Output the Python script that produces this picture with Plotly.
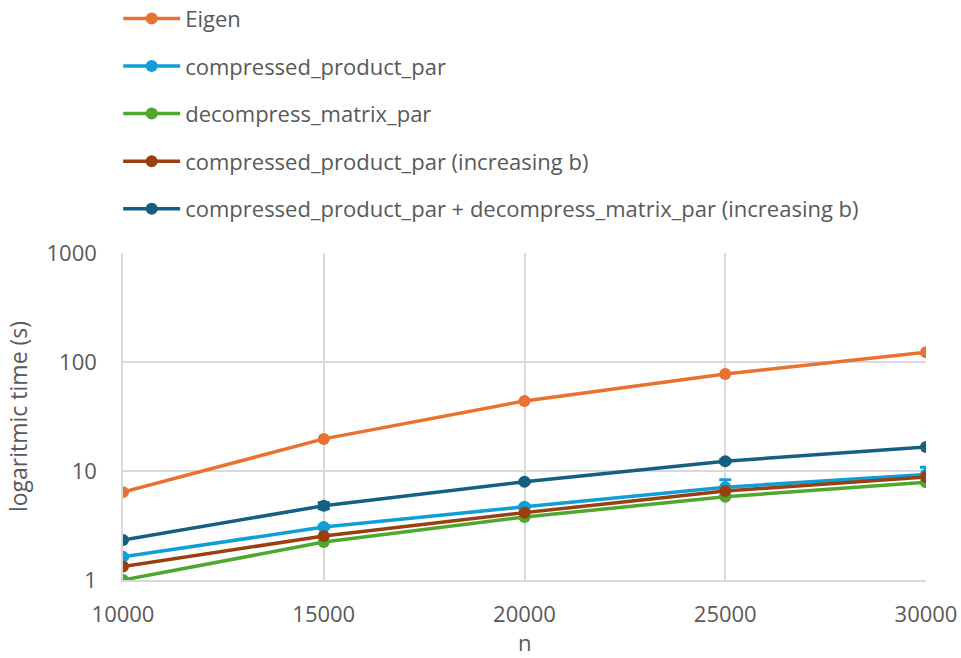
import plotly.graph_objects as go

n_values = [10000, 15000, 20000, 25000, 30000]
x_tick_labels = ["10000", "15000", "20000", "25000", "30000"]
y_tick_values = [1, 10, 100, 1000]
y_tick_labels = ["1", "10", "100", "1000"]

eigen = [6.4, 19.7, 43.9, 77.6, 123]
cp_par = [1.63, 3.06, 4.7, 7.1, 9.3]
dm_par = [1.0, 2.23, 3.78, 5.8, 7.9]
cp_par_inc_b = [1.33, 2.53, 4.15, 6.55, 8.8]
cp_dm_inc_b = [2.33, 4.8, 7.95, 12.3, 16.6]

cp_par_err = [0.03, 0.1, 0.15, 1.2, 1.5]
cp_dm_inc_b_err = [0.0, 0.3, 0.2, 0.4, 0.0]

series = [
    ("Eigen", eigen, "#E97132", None),
    ("compressed_product_par", cp_par, "#0F9ED5", cp_par_err),
    ("decompress_matrix_par", dm_par, "#4EA72E", None),
    ("compressed_product_par (increasing b)", cp_par_inc_b, "#9A3F10", None),
    ("compressed_product_par + decompress_matrix_par (increasing b)", cp_dm_inc_b, "#156082", cp_dm_inc_b_err),
]

fig = go.Figure()
for i, (name, vals, color, err) in enumerate(series):
    kw = {}
    if err is not None:
        kw["error_y"] = dict(type="data", array=err, visible=True, color=color,
                             thickness=3, width=6)
    fig.add_trace(go.Scatter(
        x=n_values, y=vals, name=name, mode="lines+markers",
        line=dict(color=color, width=3.5),
        marker=dict(color=color, size=12),
        legendgroup=f"g{i}",
        **kw,
    ))

font_family = "Open Sans, Noto Sans, sans-serif"
fig.update_layout(
    width=961, height=658,
    margin=dict(l=123, r=35, t=253, b=78, autoexpand=False),
    paper_bgcolor="white", plot_bgcolor="white",
    font=dict(family=font_family, color="#595959", size=22),
    legend=dict(x=-0.006, y=1.781, xanchor="left", yanchor="top",
                font=dict(size=22, color="#595959"),
                tracegroupgap=16, itemwidth=57, bgcolor="rgba(0,0,0,0)"),
    xaxis=dict(
        range=[10000, 30000], tickvals=n_values, ticktext=x_tick_labels,
        showgrid=True, gridcolor="#D9D9D9", gridwidth=1.5,
        showline=True, linecolor="#D9D9D9", linewidth=1.5,
        ticks="", tickfont=dict(size=22), ticklabelstandoff=14,
        zeroline=False, automargin=False,
    ),
    yaxis=dict(
        title=dict(text="logaritmic time (s)", font=dict(size=23), standoff=12),
        type="log", range=[0, 3],
        tickvals=y_tick_values, ticktext=y_tick_labels,
        showgrid=True, gridcolor="#D9D9D9", gridwidth=1.5,
        showline=True, linecolor="#D9D9D9", linewidth=1.5,
        ticks="", tickfont=dict(size=22), ticklabelstandoff=20,
        zeroline=False, automargin=False,
    ),
    annotations=[dict(
        text="n", xref="paper", yref="paper", x=0.5, y=-0.19,
        xanchor="center", yanchor="middle", showarrow=False,
        font=dict(size=22, color="#595959"),
    )],
)

fig.write_html("out.html",
               config={"displayModeBar": False},
               post_script="document.body.style.margin='0';document.body.style.overflow='hidden';")
